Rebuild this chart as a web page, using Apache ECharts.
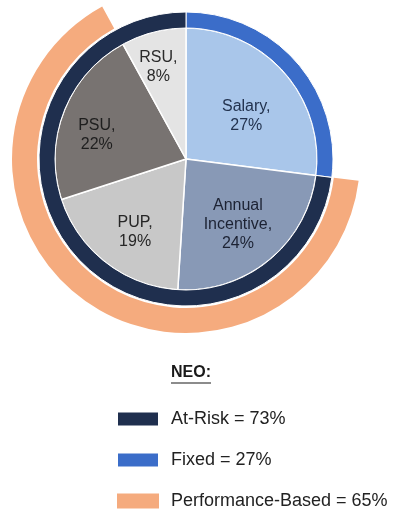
<!DOCTYPE html>
<html>
<head>
<meta charset="utf-8">
<style>
  html, body { margin: 0; padding: 0; background: #ffffff; }
  #chart { width: 394px; height: 510px; }
</style>
<script src="https://cdn.jsdelivr.net/npm/echarts@6/dist/echarts.min.js"></script>
</head>
<body>
<div id="chart"></div>
<script>
// Pay mix components (inner pie), clockwise from 12 o'clock
const components = ['Salary', 'Annual\nIncentive', 'PUP', 'PSU', 'RSU'];
const componentValues = [27, 24, 19, 22, 8];
const componentColors = ['#a9c6ea', '#8899b6', '#c8c8c8', '#787371', '#e4e4e4'];
const componentTextColors = ['#23334f', '#1c2233', '#262626', '#1e1e1e', '#2a2a2a'];

// Middle ring: fixed vs. at-risk pay
const riskNames = ['Fixed', 'At-Risk'];
const riskValues = [27, 73];
const riskColors = ['#3b6dc9', '#1f2f4e'];

// Outer ring: performance-based pay (Annual Incentive + PUP + PSU)
const perfName = 'Performance-Based';
const perfValue = 65;
const perfColor = '#f5ab7e';

// Legend order
const legendOrder = ['At-Risk', 'Fixed', 'Performance-Based'];
const legendValues = [73, 27, 65];

const fmt = (n, v) => n + ' = ' + v + '%';
const legendNames = legendOrder.map((n, i) => fmt(n, legendValues[i]));

const CENTER = [186, 159];
const FONT = 'Liberation Sans, Arial, sans-serif';

const innerData = components.map((n, i) => ({
  name: n, value: componentValues[i], itemStyle: { color: componentColors[i] }
}));

// Label layer: a transparent pie so labels sit at mid-radius of a larger ring,
// nudged a little so each one sits comfortably inside its slice
const labelOffsets = {
  'Salary': [-2, 12],
  'Annual\nIncentive': [-1, 2],
  'PUP': [0, 8],
  'PSU': [-12, 7],
  'RSU': [-7, -12]
};
const labelData = components.map((n, i) => ({
  name: n, value: componentValues[i],
  label: { offset: labelOffsets[n] || [0, 0], color: componentTextColors[i] }
}));

const riskData = riskNames.map((n, i) => ({
  name: fmt(n, riskValues[i]), value: riskValues[i], itemStyle: { color: riskColors[i] }
}));

const fixedShare = riskValues[0];
const outerData = [
  { name: 'lead', value: fixedShare, itemStyle: { color: 'transparent' } },
  { name: fmt(perfName, perfValue), value: perfValue, itemStyle: { color: perfColor } },
  { name: 'tail', value: 100 - fixedShare - perfValue, itemStyle: { color: 'transparent' } }
];

const chart = echarts.init(document.getElementById('chart'), null, { renderer: 'canvas' });

chart.setOption({
  backgroundColor: '#ffffff',
  animation: false,
  legend: {
    data: legendNames,
    orient: 'vertical',
    left: 116,
    top: 409,
    height: 200,
    padding: 0,
    icon: 'rect',
    itemWidth: 42,
    itemHeight: 15,
    itemGap: 21,
    selectedMode: false,
    textStyle: {
      fontFamily: FONT, fontSize: 18, color: '#222222',
      lineHeight: 20, padding: [0, 0, 0, 7]
    }
  },
  graphic: [
    {
      type: 'text', left: 171, top: 365,
      style: { text: 'NEO:', fontFamily: FONT, fontSize: 16, fontWeight: 'bold', fill: '#1a1a1a' }
    },
    {
      type: 'line', shape: { x1: 171, y1: 383, x2: 211, y2: 383 },
      style: { stroke: '#1a1a1a', lineWidth: 1.2 }
    }
  ],
  series: [
    {
      type: 'pie', name: 'components', center: CENTER, radius: [0, 131],
      startAngle: 90, clockwise: true, silent: true,
      label: { show: false }, labelLine: { show: false },
      itemStyle: { borderColor: '#ffffff', borderWidth: 1.5 },
      data: innerData
    },
    {
      type: 'pie', name: 'risk', center: CENTER, radius: [131, 147],
      startAngle: 90, clockwise: true, silent: true,
      label: { show: false }, labelLine: { show: false },
      itemStyle: { borderColor: '#ffffff', borderWidth: 1 },
      data: riskData
    },
    {
      type: 'pie', name: 'performance', center: CENTER, radius: [149, 174],
      startAngle: 90, clockwise: true, silent: true,
      label: { show: false }, labelLine: { show: false },
      data: outerData
    },
    {
      type: 'pie', name: 'labels', center: CENTER, radius: [0, 160],
      startAngle: 90, clockwise: true, silent: true, z: 5,
      itemStyle: { color: 'transparent' },
      labelLine: { show: false },
      label: {
        show: true, position: 'inside',
        formatter: p => p.name + ',\n' + p.value + '%',
        fontFamily: FONT, fontSize: 16, lineHeight: 19,
        color: '#1f1f1f', align: 'center'
      },
      data: labelData
    }
  ]
});
</script>
</body>
</html>
